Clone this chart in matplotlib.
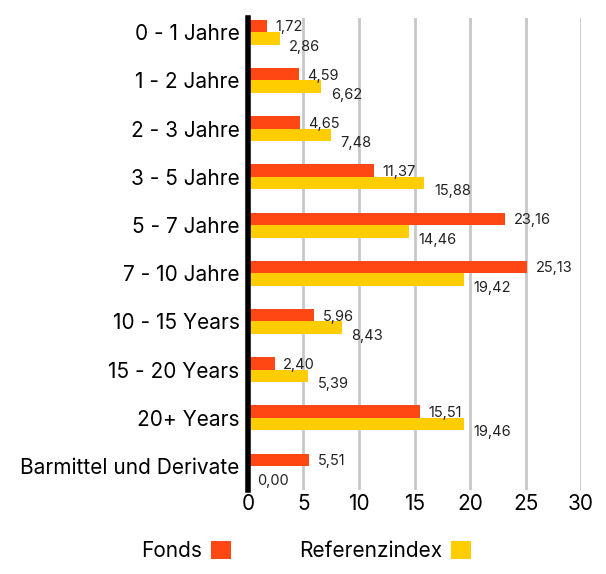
import matplotlib.pyplot as plt
import numpy as np

plt.rcParams['font.family'] = ['Inter', 'DejaVu Sans']

categories = ['0 - 1 Jahre', '1 - 2 Jahre', '2 - 3 Jahre', '3 - 5 Jahre', '5 - 7 Jahre',
              '7 - 10 Jahre', '10 - 15 Years', '15 - 20 Years', '20+ Years',
              'Barmittel und Derivate']
fonds = [1.72, 4.59, 4.65, 11.37, 23.16, 25.13, 5.96, 2.40, 15.51, 5.51]
referenz = [2.86, 6.62, 7.48, 15.88, 14.46, 19.42, 8.43, 5.39, 19.46, 0.00]
xticks = [0, 5, 10, 15, 20, 25, 30]

c_fonds = '#FF4713'
c_ref = '#FFCD00'

fig = plt.figure(figsize=(6.06, 5.74), dpi=100)
ax = fig.add_axes([0.409, 0.146, 0.550, 0.823])

y = np.arange(len(categories))
h = 0.26
ax.barh(y - h / 2, fonds, height=h, color=c_fonds, label='Fonds', zorder=3)
ax.barh(y + h / 2, referenz, height=h, color=c_ref, label='Referenzindex', zorder=3)

def fmt(v):
    return f'{v:.2f}'.replace('.', ',')

for i in range(len(categories)):
    ax.annotate(fmt(fonds[i]), (fonds[i], y[i] - h / 2), xytext=(6, -1),
                textcoords='offset points', ha='left', va='center',
                fontsize=10.5, color='#222222', zorder=4)
    ax.annotate(fmt(referenz[i]), (referenz[i], y[i] + h / 2), xytext=(7, -6),
                textcoords='offset points', ha='left', va='center',
                fontsize=10.5, color='#222222', zorder=4)

ax.set_xlim(0, 30)
ax.set_ylim(9.5, -0.3)
ax.set_xticks(xticks)
ax.set_xticklabels([str(t) for t in xticks], fontsize=15)
ax.set_yticks(y)
ax.set_yticklabels(categories, fontsize=15)
ax.tick_params(length=0, pad=6)
ax.tick_params(axis='x', pad=3)
ax.grid(axis='x', color='#c8c8c8', linewidth=2, zorder=0)
for s in ['top', 'right', 'bottom']:
    ax.spines[s].set_visible(False)
ax.spines['left'].set_linewidth(4)
ax.spines['left'].set_color('black')
ax.spines['left'].set_zorder(5)

fig.legend(loc='lower center', bbox_to_anchor=(0.505, -0.01), ncol=2, frameon=False,
           markerfirst=False, fontsize=15, handlelength=0.95, handleheight=0.95,
           columnspacing=3.27, handletextpad=0.45)

fig.savefig('out.png', dpi=100)
